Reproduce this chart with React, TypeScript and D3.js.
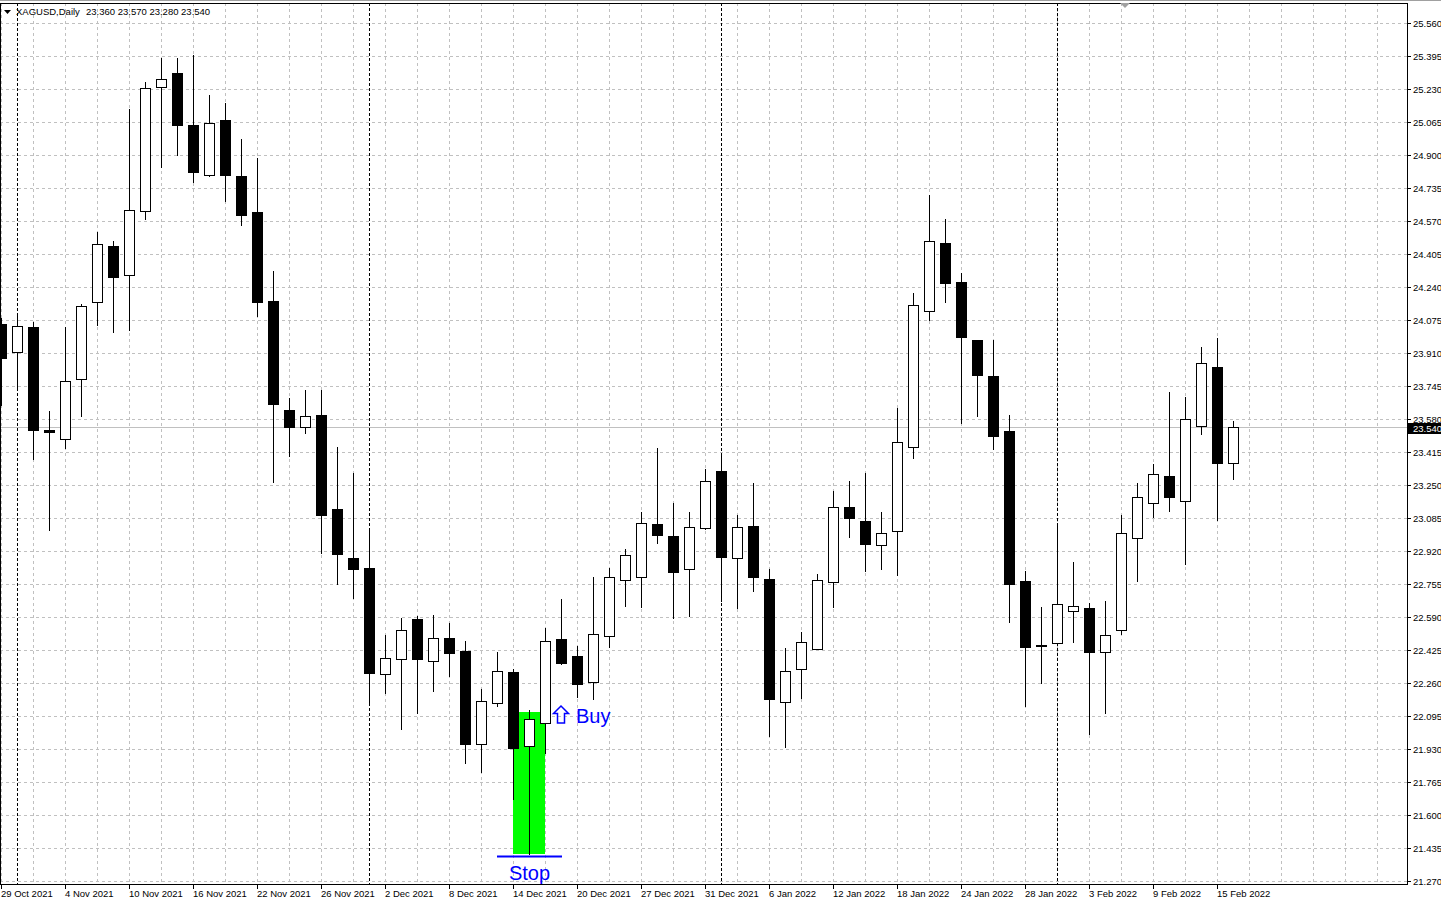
import * as d3 from 'd3';

// XAGUSD daily candles (29 Oct 2021 .. 16 Feb 2022)
const dates = [
  '2021-10-29',
  '2021-11-01', '2021-11-02', '2021-11-03', '2021-11-04', '2021-11-05',
  '2021-11-08', '2021-11-09', '2021-11-10', '2021-11-11', '2021-11-12',
  '2021-11-15', '2021-11-16', '2021-11-17', '2021-11-18', '2021-11-19',
  '2021-11-22', '2021-11-23', '2021-11-24', '2021-11-25', '2021-11-26',
  '2021-11-29', '2021-11-30', '2021-12-01', '2021-12-02', '2021-12-03',
  '2021-12-06', '2021-12-07', '2021-12-08', '2021-12-09', '2021-12-10',
  '2021-12-13', '2021-12-14', '2021-12-15', '2021-12-16', '2021-12-17',
  '2021-12-20', '2021-12-21', '2021-12-22', '2021-12-23',
  '2021-12-27', '2021-12-28', '2021-12-29', '2021-12-30', '2021-12-31',
  '2022-01-03', '2022-01-04', '2022-01-05', '2022-01-06', '2022-01-07',
  '2022-01-10', '2022-01-11', '2022-01-12', '2022-01-13', '2022-01-14',
  '2022-01-17', '2022-01-18', '2022-01-19', '2022-01-20', '2022-01-21',
  '2022-01-24', '2022-01-25', '2022-01-26', '2022-01-27', '2022-01-28',
  '2022-01-31', '2022-02-01', '2022-02-02', '2022-02-03', '2022-02-04',
  '2022-02-07', '2022-02-08', '2022-02-09', '2022-02-10', '2022-02-11',
  '2022-02-14', '2022-02-15', '2022-02-16',
];

const opens = [
  24.055, 23.915, 24.04, 23.525, 23.48, 23.78, 24.165, 24.445, 24.3, 24.62,
  25.24, 25.31, 25.05, 24.8, 25.075, 24.795, 24.615, 24.17, 23.625, 23.54,
  23.6, 23.13, 22.885, 22.835, 22.305, 22.38, 22.58, 22.37, 22.485, 22.42,
  21.955, 22.16, 22.315, 21.945, 22.06, 22.48, 22.395, 22.265, 22.495, 22.775,
  22.79, 23.055, 22.995, 22.83, 23.035, 23.32, 22.885, 23.045, 22.78, 22.165,
  22.33, 22.43, 22.765, 23.14, 23.07, 22.95, 23.02, 23.44, 24.12, 24.46,
  24.265, 23.975, 23.795, 23.52, 22.77, 22.45, 22.46, 22.62, 22.635, 22.415,
  22.525, 22.985, 23.16, 23.295, 23.17, 23.545, 23.84, 23.36,
];
const highs = [
  24.085, 24.1, 24.065, 23.62, 24.04, 24.155, 24.515, 24.47, 25.13, 25.265,
  25.385, 25.385, 25.4, 25.2, 25.16, 24.98, 24.885, 24.32, 23.685, 23.725,
  23.725, 23.44, 23.31, 23.035, 22.5, 22.585, 22.595, 22.6, 22.56, 22.47,
  22.23, 22.415, 22.33, 22.125, 22.535, 22.68, 22.445, 22.79, 22.835, 22.93,
  23.115, 23.435, 23.16, 23.115, 23.33, 23.41, 23.1, 23.26, 22.83, 22.435,
  22.515, 22.805, 23.22, 23.27, 23.31, 23.115, 23.635, 24.21, 24.7, 24.58,
  24.31, 23.975, 23.975, 23.6, 22.82, 22.64, 23.05, 22.865, 22.66, 22.67,
  23.1, 23.26, 23.355, 23.715, 23.69, 23.94, 23.985, 23.57,
];
const lows = [
  23.65, 23.725, 23.38, 23.025, 23.435, 23.595, 24.05, 24.015, 24.025, 24.58,
  24.84, 24.9, 24.765, 24.795, 24.67, 24.55, 24.095, 23.265, 23.395, 23.51,
  22.91, 22.755, 22.685, 22.165, 22.21, 22.03, 22.11, 22.22, 22.295, 21.86,
  21.815, 22.145, 21.68, 21.405, 21.91, 22.355, 22.19, 22.18, 22.44, 22.645,
  22.64, 22.96, 22.585, 22.595, 23.03, 22.67, 22.635, 22.72, 21.995, 21.94,
  22.185, 22.43, 22.64, 22.99, 22.82, 22.83, 22.8, 23.385, 24.075, 24.165,
  23.56, 23.595, 23.43, 22.565, 22.145, 22.26, 22.455, 22.465, 22.005, 22.11,
  22.505, 22.77, 23.09, 23.12, 22.855, 23.505, 23.075, 23.28,
];
const closes = [
  23.885, 24.045, 23.525, 23.515, 23.77, 24.145, 24.455, 24.29, 24.625, 25.235,
  25.28, 25.05, 24.815, 25.06, 24.8, 24.6, 24.165, 23.655, 23.54, 23.595,
  23.1, 22.905, 22.83, 22.31, 22.385, 22.525, 22.38, 22.485, 22.41, 21.955,
  22.17, 22.32, 21.935, 22.08, 22.47, 22.36, 22.255, 22.505, 22.79, 22.9,
  23.06, 23.0, 22.815, 23.04, 23.27, 22.89, 23.04, 22.79, 22.18, 22.32,
  22.465, 22.775, 23.14, 23.085, 22.955, 23.01, 23.465, 24.15, 24.47, 24.26,
  23.99, 23.8, 23.495, 22.755, 22.44, 22.445, 22.655, 22.645, 22.415, 22.5,
  23.01, 23.19, 23.305, 23.19, 23.58, 23.86, 23.36, 23.54,
];

const priceTicks = [
  25.56, 25.395, 25.23, 25.065, 24.9, 24.735, 24.57, 24.405, 24.24, 24.075,
  23.91, 23.745, 23.58, 23.415, 23.25, 23.085, 22.92, 22.755, 22.59, 22.425,
  22.26, 22.095, 21.93, 21.765, 21.6, 21.435, 21.27,
];

// objects drawn on the chart
const zoneFrom = '2021-12-14';
const zoneTo = '2021-12-16';
const zoneTop = 22.115;
const zoneBottom = 21.405;
const stopFrom = '2021-12-13';
const stopTo = '2021-12-17';
const stopPrice = 21.392;
const buyDate = '2021-12-17';
const buyPrice = 22.095;
const lastPrice = 23.54;

const W = 1441;
const H = 905;
const plotRight = 1407;
const plotTop = 3;
const plotBottom = 884;
const font = 'Tahoma, "Liberation Sans", Arial, sans-serif';

export default function App() {
  const parse = d3.timeParse('%Y-%m-%d');
  const fmt = d3.timeFormat('%-d %b %Y');
  const idx = (d: string) => dates.indexOf(d);

  const x = d3
    .scaleLinear()
    .domain([0, dates.length - 1])
    .range([1, 1 + 16 * (dates.length - 1)]);
  const y = d3.scaleLinear().domain([21.27, 25.56]).range([881, 23]);

  const gridIdx = d3.range(0, 88, 2).filter((i) => x(i) < plotRight);
  const labelIdx = d3.range(0, dates.length, 4);
  const separators = dates
    .map((d, i) => ({ d: parse(d)!, i }))
    .filter((p, i) => i > 0 && p.d.getMonth() !== parse(dates[i - 1])!.getMonth());

  const candles = dates.map((d, i) => ({
    i,
    o: opens[i],
    h: highs[i],
    l: lows[i],
    c: closes[i],
  }));

  const buyX = x(idx(buyDate)) - 8;
  const buyY = Math.round(y(buyPrice));

  return (
    <div style={{ position: 'absolute', left: 0, top: 0 }}>
      <svg width={W} height={H} style={{ display: 'block' }}>
        <defs>
          <clipPath id="plot">
            <rect x={0} y={plotTop} width={plotRight} height={plotBottom - plotTop} />
          </clipPath>
        </defs>
        <rect x={0} y={0} width={W} height={H} fill="#fff" />
        <line x1={0} x2={W} y1={0.5} y2={0.5} stroke="#a0a0a0" />

        <g clipPath="url(#plot)">
          {/* grid */}
          <g stroke="#c0c0c0" strokeDasharray="3,3" shapeRendering="crispEdges">
            {priceTicks.map((p) => (
              <line key={'h' + p} x1={0} x2={plotRight} y1={Math.round(y(p)) + 0.5} y2={Math.round(y(p)) + 0.5} />
            ))}
            {gridIdx.map((i) => (
              <line key={'v' + i} x1={x(i) + 0.5} x2={x(i) + 0.5} y1={plotTop} y2={plotBottom} />
            ))}
          </g>

          {/* month separators */}
          <g stroke="#000" strokeDasharray="3,2" shapeRendering="crispEdges">
            {separators.map((s) => (
              <line key={'s' + s.i} x1={x(s.i) + 0.5} x2={x(s.i) + 0.5} y1={plotTop} y2={plotBottom} />
            ))}
          </g>

          {/* green zone */}
          <rect
            x={x(idx(zoneFrom))}
            y={Math.round(y(zoneTop))}
            width={x(idx(zoneTo)) - x(idx(zoneFrom))}
            height={Math.round(y(zoneBottom)) - Math.round(y(zoneTop))}
            fill="#00ff00"
          />

          {/* last price line */}
          <line
            x1={0}
            x2={plotRight}
            y1={Math.round(y(lastPrice)) + 0.5}
            y2={Math.round(y(lastPrice)) + 0.5}
            stroke="#c0c0c0"
          />

          {/* candles */}
          <g shapeRendering="crispEdges">
            {candles.map((k) => {
              const cx = Math.round(x(k.i));
              const top = Math.round(y(Math.max(k.o, k.c)));
              const bot = Math.round(y(Math.min(k.o, k.c)));
              const up = k.c > k.o;
              return (
                <g key={k.i}>
                  <line
                    x1={cx + 0.5}
                    x2={cx + 0.5}
                    y1={Math.round(y(k.h))}
                    y2={Math.round(y(k.l)) + 1}
                    stroke="#000"
                  />
                  {up ? (
                    <rect x={cx - 4.5} y={top + 0.5} width={10} height={Math.max(bot - top, 1)} fill="#fff" stroke="#000" />
                  ) : (
                    <rect x={cx - 5} y={top} width={11} height={Math.max(bot - top + 1, 2)} fill="#000" />
                  )}
                </g>
              );
            })}
          </g>

          {/* stop line and labels */}
          <line
            x1={x(idx(stopFrom))}
            x2={x(idx(stopTo)) + 1}
            y1={y(stopPrice)}
            y2={y(stopPrice)}
            stroke="#0000ff"
            strokeWidth={2}
          />
        </g>

        <text
          x={x(idx(zoneFrom) + 1) + 0.5}
          y={880}
          textAnchor="middle"
          fontFamily='"Liberation Sans", Arial, sans-serif'
          fontSize={20}
          fill="#0000ff"
        >
          Stop
        </text>
        <path
          d={`M${buyX + 8},${buyY - 10} L${buyX + 0.5},${buyY - 2.5} L${buyX + 4.5},${buyY - 2.5} L${buyX + 4.5},${buyY + 7} L${buyX + 11.5},${buyY + 7} L${buyX + 11.5},${buyY - 2.5} L${buyX + 15.5},${buyY - 2.5} Z`}
          fill="none"
          stroke="#0000ff"
          strokeWidth={1.5}
        />
        <text
          x={buyX + 23}
          y={buyY + 7}
          fontFamily='"Liberation Sans", Arial, sans-serif'
          fontSize={20}
          fill="#0000ff"
        >
          Buy
        </text>

        {/* frame */}
        <rect
          x={0.5}
          y={plotTop + 0.5}
          width={plotRight - 0.5}
          height={plotBottom - plotTop}
          fill="none"
          stroke="#000"
          shapeRendering="crispEdges"
        />

        {/* price axis */}
        <g fontFamily={font} fontSize={9.5} fill="#000">
          {priceTicks.map((p) => (
            <g key={'t' + p}>
              <line
                x1={plotRight}
                x2={plotRight + 4}
                y1={Math.round(y(p)) + 0.5}
                y2={Math.round(y(p)) + 0.5}
                stroke="#000"
                shapeRendering="crispEdges"
              />
              <text x={plotRight + 6} y={Math.round(y(p)) + 4}>
                {p.toFixed(3)}
              </text>
            </g>
          ))}
        </g>
        <rect x={plotRight + 1} y={Math.round(y(lastPrice)) - 4} width={W - plotRight} height={11} fill="#000" />
        <text x={plotRight + 6} y={Math.round(y(lastPrice)) + 5} fontFamily={font} fontSize={9.5} fill="#fff">
          {lastPrice.toFixed(3)}
        </text>

        {/* time axis */}
        <g fontFamily={font} fontSize={9.5} fill="#000">
          {labelIdx.map((i) => (
            <g key={'x' + i}>
              <line
                x1={x(i) + 0.5}
                x2={x(i) + 0.5}
                y1={plotBottom}
                y2={plotBottom + 5}
                stroke="#000"
                shapeRendering="crispEdges"
              />
              <text x={Math.max(x(i), 0)} y={897}>
                {fmt(parse(dates[i])!)}
              </text>
            </g>
          ))}
        </g>

        {/* header */}
        <path d="M4,10 L11,10 L7.5,14 Z" fill="#000" />
        <text x={16} y={15} fontFamily={font} fontSize={9.5} fill="#000">
          XAGUSD,Daily
        </text>
        <text x={86} y={15} fontFamily={font} fontSize={9.5} fill="#000">
          {[opens, highs, lows, closes].map((a) => a[a.length - 1].toFixed(3)).join(' ')}
        </text>
        <path d="M1120,3 L1130,3 L1125,8 Z" fill="#a0a0a0" />
      </svg>
    </div>
  );
}
